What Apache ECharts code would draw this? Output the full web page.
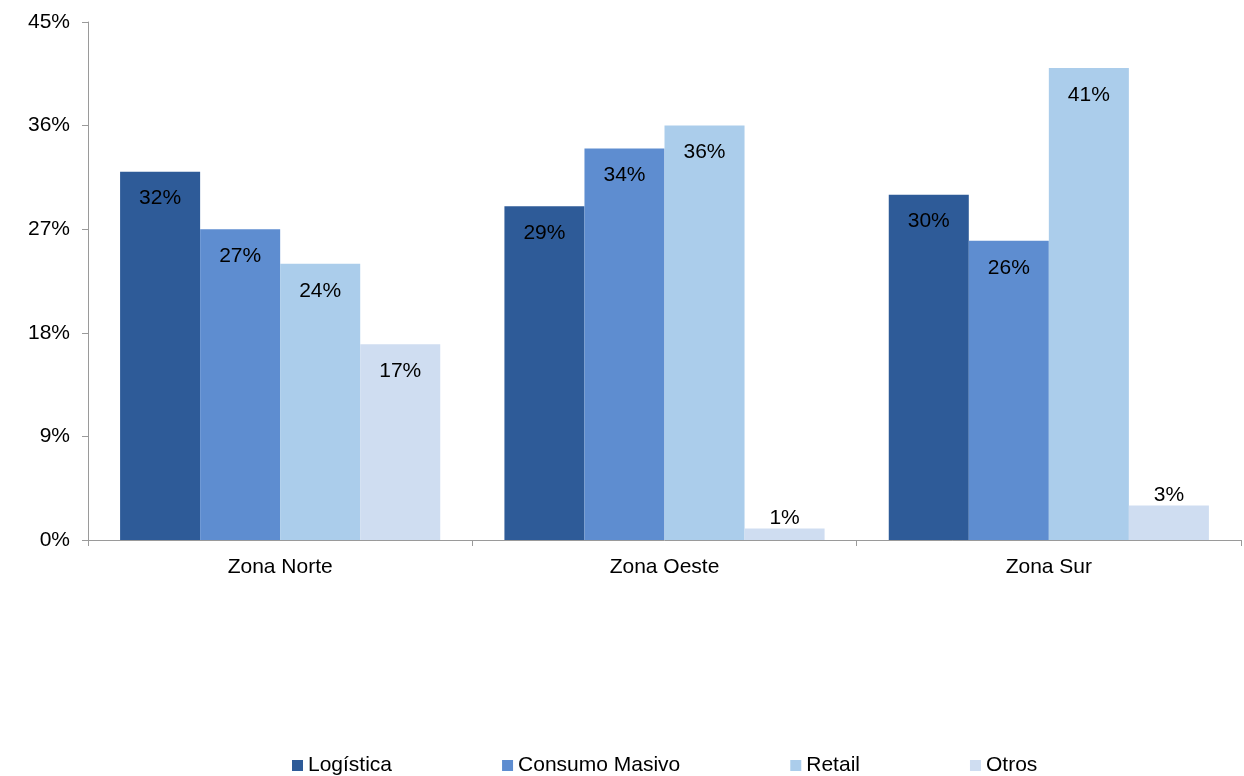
<!DOCTYPE html>
<html>
<head>
<meta charset="utf-8">
<script src="https://cdn.jsdelivr.net/npm/echarts@6/dist/echarts.min.js"></script>
<style>
  html, body { margin: 0; padding: 0; background: #fff; }
  #chart { width: 1244px; height: 776px; }
</style>
</head>
<body>
<div id="chart"></div>
<script>
// Share of demand by zone and sector (%)
const zones = ['Zona Norte', 'Zona Oeste', 'Zona Sur'];
const seriesNames = ['Logística', 'Consumo Masivo', 'Retail', 'Otros'];
const logistica = [32, 29, 30];
const consumoMasivo = [27, 34, 26];
const retail = [24, 36, 41];
const otros = [17, 1, 3];
const yTicks = [0, 9, 18, 27, 36, 45];

const colors = ['#2E5B98', '#5E8DD0', '#ABCDEB', '#CFDDF1'];
const FONT = '"Liberation Sans", Arial, sans-serif';
const FS = 21;

// Small bars get their label above the bar instead of inside
function withLabels(values) {
  return values.map(v => v < 9
    ? { value: v, label: { position: 'top', distance: 0 } }
    : { value: v });
}

const allSeries = [logistica, consumoMasivo, retail, otros].map((vals, i) => ({
  name: seriesNames[i],
  type: 'bar',
  barGap: '0%',
  barCategoryGap: '16.7%',
  itemStyle: { color: colors[i] },
  label: {
    show: true,
    position: 'insideTop',
    distance: 16.5,
    formatter: p => p.value + '%',
    color: '#000',
    fontFamily: FONT,
    fontSize: FS
  },
  data: withLabels(vals)
}));

const chart = echarts.init(document.getElementById('chart'), null, { renderer: 'canvas' });
chart.setOption({
  animation: false,
  backgroundColor: '#fff',
  textStyle: { fontFamily: FONT },
  grid: { left: 88, right: 3, top: 22, bottom: 236, containLabel: false },
  legend: {
    top: 755,
    left: 292,
    padding: 0,
    itemWidth: 11,
    itemHeight: 11,
    itemGap: 110,
    icon: 'rect',
    textStyle: { fontFamily: FONT, fontSize: FS, color: '#000' },
    data: seriesNames
  },
  xAxis: {
    type: 'category',
    data: zones,
    axisLine: { lineStyle: { color: '#9A9A9A', width: 1 } },
    axisTick: { show: true, length: 6, lineStyle: { color: '#9A9A9A' } },
    axisLabel: { color: '#000', fontFamily: FONT, fontSize: FS, margin: 17 }
  },
  yAxis: {
    type: 'value',
    min: yTicks[0],
    max: yTicks[yTicks.length - 1],
    interval: yTicks[1] - yTicks[0],
    axisLine: { show: true, lineStyle: { color: '#9A9A9A', width: 1 } },
    axisTick: { show: true, length: 6, lineStyle: { color: '#9A9A9A' } },
    splitLine: { show: false },
    axisLabel: { color: '#000', fontFamily: FONT, fontSize: FS, margin: 18, formatter: v => v + '%' }
  },
  series: allSeries
});
</script>
</body>
</html>
